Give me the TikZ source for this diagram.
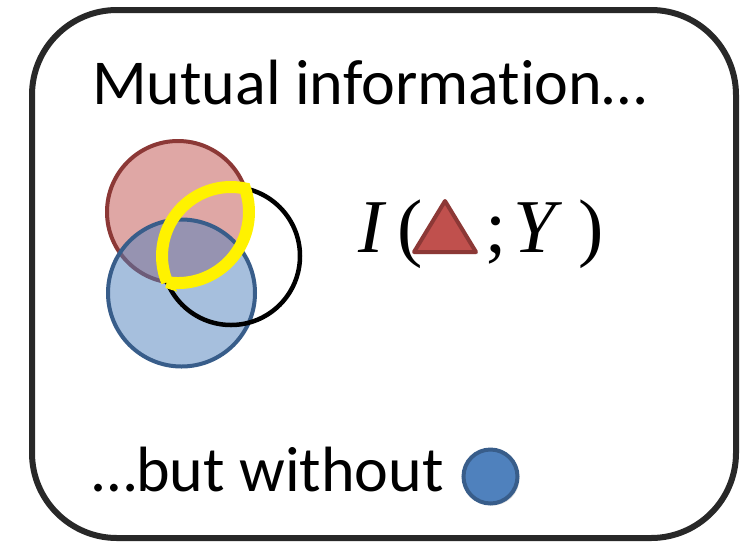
\documentclass[tikz,border=0pt]{standalone}
\usepackage{fontspec}
\setmainfont[Ligatures={NoCommon}]{Carlito}
\newfontfamily\formfont{Liberation Serif}
\usetikzlibrary{shadows}
\definecolor{redfill}{RGB}{192,80,77}
\definecolor{redline}{RGB}{140,56,54}
\definecolor{bluefill}{RGB}{79,129,189}
\definecolor{blueline}{RGB}{56,93,138}
\definecolor{boxline}{RGB}{40,40,40}
\tikzset{
  txt/.style={inner sep=0pt, anchor=base west, font=\fontsize{64}{70}\selectfont},
  frm/.style={inner sep=0pt, anchor=base west, font=\formfont\fontsize{76}{80}\selectfont},
  softshadow/.style={drop shadow={opacity=0.25, shadow xshift=2pt, shadow yshift=-2pt}},
}
\begin{document}
\begin{tikzpicture}[x=1pt,y=-1pt]
\useasboundingbox (0,0) rectangle (749,542);
% outer box
\draw[boxline, line width=6pt, rounded corners=85pt, softshadow, fill=white] (32,10) rectangle (736,538);
% title
\node[txt] (title) at (92,104) {Mutual information…};
% Venn
\coordinate (R) at (178,212);
\coordinate (B) at (231,256);
\draw[redline, line width=4pt, fill=redfill, fill opacity=0.5] (R) circle[radius=71];
\draw[blueline, line width=4pt, fill=bluefill, fill opacity=0.5] (181.5,293) circle[radius=73.5];
\draw[black, line width=4.5pt] (B) circle[radius=69];
\coordinate (T2) at (167.15,282.17);
\draw[yellow, line width=12pt, line join=miter]
  (T2) arc[start angle=98.79, end angle=-19.39, radius=71]
       arc[start angle=-78.32, end angle=-202.29, radius=69] -- cycle;
% formula
\node[frm] (I) at (358,252) {\itshape I};
\node[frm] (lp) at (397,252) {(};
\node[frm] (sc) at (485,252) {;};
\node[frm] (Y) at (513,252) {\itshape Y};
\node[frm] (rp) at (578,252) {)};
\draw[redline, line width=4pt, fill=redfill, line join=round, softshadow]
  (414,252) -- (445,201) -- (476,252) -- cycle;
% bottom
\node[txt] (but) at (92,491) {…but without};
\draw[blueline, line width=4pt, fill=bluefill, softshadow] (490.5,476.5) circle[radius=27];
\end{tikzpicture}
\end{document}
